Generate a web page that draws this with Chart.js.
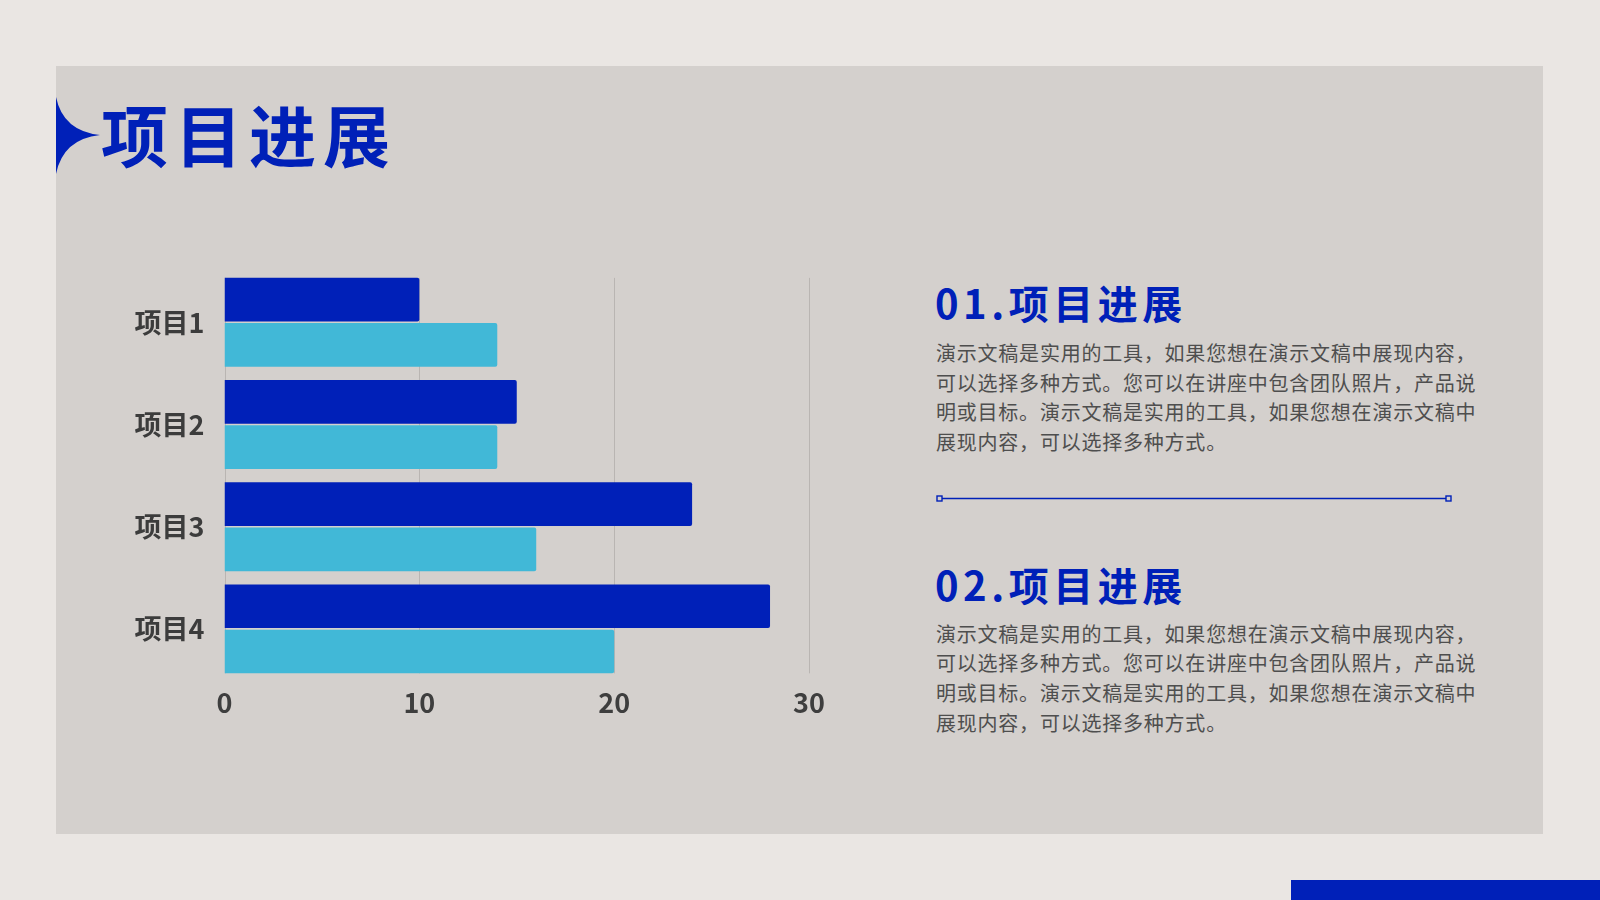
<!DOCTYPE html>
<html>
<head>
<meta charset="utf-8">
<script src="https://cdn.jsdelivr.net/npm/chart.js@4.4.0/dist/chart.umd.min.js"></script>
<style>
  html, body { margin:0; padding:0; }
  body { width:1600px; height:900px; background:#EAE6E3; position:relative; overflow:hidden;
         font-family:'Noto Sans CJK SC', 'Noto Sans', sans-serif; }
  #panel { position:absolute; left:56px; top:66px; width:1487px; height:768px; background:#D4D0CD; }
  #strip { position:absolute; left:1291px; top:880px; width:309px; height:20px; background:#0020B8; }
  #title { position:absolute; left:101px; top:100px; font-size:67px; line-height:66px; font-weight:700;
           color:#0020B8; letter-spacing:7px; white-space:nowrap; }
  .h { position:absolute; left:935px; font-size:40px; line-height:40px; font-weight:700; color:#0020B8;
       letter-spacing:4.5px; white-space:nowrap; }
  .p { position:absolute; left:936px; font-size:20px; line-height:29.7px; color:#4E4E4E;
       letter-spacing:0.78px; white-space:nowrap; }
  #chartBox { position:absolute; left:100px; top:235px; width:740px; height:485px; }
  svg { position:absolute; left:0; top:0; }
</style>
</head>
<body>
<div id="panel"></div>
<div id="strip"></div>
<svg width="1600" height="900">
  <path d="M56,97 Q63,131 100,135 Q63,139 56,174 Z" fill="#0020B8"/>
  <line x1="942" y1="498.5" x2="1446" y2="498.5" stroke="#0020B8" stroke-width="1.6"/>
  <rect x="937" y="496" width="5" height="5" fill="none" stroke="#0020B8" stroke-width="1.4"/>
  <rect x="1446" y="496" width="5" height="5" fill="none" stroke="#0020B8" stroke-width="1.4"/>
</svg>
<div id="title">项目进展</div>

<div class="h" style="top:282px;">01.项目进展</div>
<div class="p" style="top:338px;">演示文稿是实用的工具，如果您想在演示文稿中展现内容，<br>可以选择多种方式。您可以在讲座中包含团队照片，产品说<br>明或目标。演示文稿是实用的工具，如果您想在演示文稿中<br>展现内容，可以选择多种方式。</div>

<div class="h" style="top:564px;">02.项目进展</div>
<div class="p" style="top:618.5px;">演示文稿是实用的工具，如果您想在演示文稿中展现内容，<br>可以选择多种方式。您可以在讲座中包含团队照片，产品说<br>明或目标。演示文稿是实用的工具，如果您想在演示文稿中<br>展现内容，可以选择多种方式。</div>

<div id="chartBox"><canvas id="c"></canvas></div>

<script>
const categories = ['项目1', '项目2', '项目3', '项目4'];
const seriesA = [10, 15, 24, 28];
const seriesB = [14, 14, 16, 20];
const xTicks = [0, 10, 20, 30];

const FONT = "'Noto Sans CJK SC', 'Noto Sans', sans-serif";

const barGrid = {
  id: 'barGrid',
  beforeDatasetsDraw(chart) {
    const xs = chart.scales.x;
    const a = chart.getDatasetMeta(0).data;
    const b = chart.getDatasetMeta(1).data;
    const first = a[0].getProps(['y', 'height'], true);
    const last = b[b.length - 1].getProps(['y', 'height'], true);
    const top = first.y - first.height / 2;
    const bot = last.y + last.height / 2;
    const ctx = chart.ctx;
    ctx.save();
    ctx.strokeStyle = '#B9B5B2';
    ctx.lineWidth = 1;
    xTicks.forEach(v => {
      const px = Math.round(xs.getPixelForValue(v)) + 0.5;
      ctx.beginPath();
      ctx.moveTo(px, top);
      ctx.lineTo(px, bot);
      ctx.stroke();
    });
    ctx.restore();
  }
};

new Chart(document.getElementById('c'), {
  type: 'bar',
  data: {
    labels: categories,
    datasets: [
      { data: seriesA, backgroundColor: '#0020B8', borderRadius: 2, borderSkipped: 'start' },
      { data: seriesB, backgroundColor: '#41B8D7', borderRadius: 2, borderSkipped: 'start' }
    ]
  },
  options: {
    indexAxis: 'y',
    responsive: true,
    maintainAspectRatio: false,
    animation: false,
    layout: { padding: { top: 5.5, right: 31, left: 0, bottom: 0 } },
    categoryPercentage: 0.885,
    barPercentage: 0.965,
    plugins: { legend: { display: false }, tooltip: { enabled: false } },
    scales: {
      x: {
        min: 0, max: 30,
        afterBuildTicks(scale) { scale.ticks = xTicks.map(v => ({ value: v })); },
        afterFit(scale) { scale.height = 40; },
        grid: { display: false, drawTicks: false },
        border: { display: false },
        ticks: { padding: 7, color: '#3E3E3E', font: { family: FONT, size: 27, weight: 'bold' } }
      },
      y: {
        afterFit(scale) { scale.width = 124.5; },
        grid: { display: false, drawTicks: false },
        border: { display: false },
        ticks: { padding: 20, color: '#3C3C3C', font: { family: FONT, size: 27, weight: 'bold' } }
      }
    }
  },
  plugins: [barGrid]
});
</script>
</body>
</html>
